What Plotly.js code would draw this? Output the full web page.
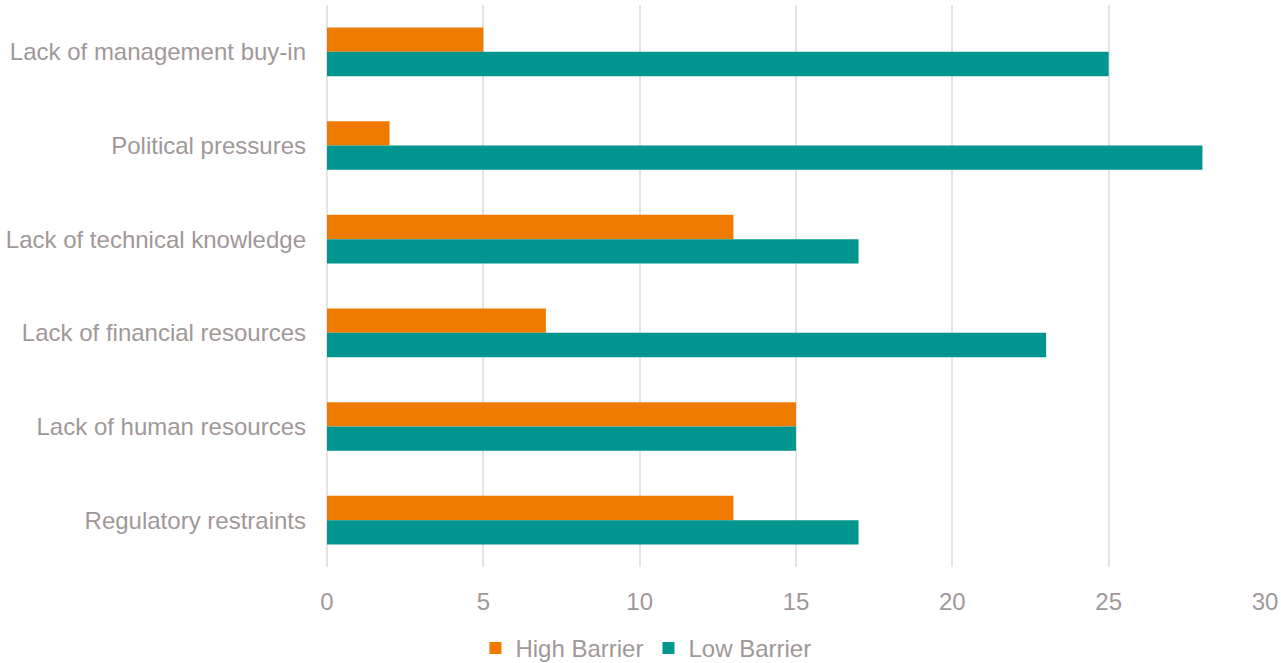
<!DOCTYPE html>
<html>
<head>
<meta charset="utf-8">
<script src="https://cdn.plot.ly/plotly-3.0.1.min.js"></script>
<style>html,body{margin:0;padding:0;background:#fff}#chart{width:1281px;height:663px}</style>
</head>
<body>
<div id="chart"></div>
<script>
const categories = ["Lack of management buy-in","Political pressures","Lack of technical knowledge","Lack of financial resources","Lack of human resources","Regulatory restraints"];
const highBarrier = [5, 2, 13, 7, 15, 13];
const lowBarrier = [25, 28, 17, 23, 15, 17];

const textColor = "#a09898";
const fontFam = "Liberation Sans, Arial, sans-serif";

const data = [
  {type:"bar", orientation:"h", name:"High Barrier", y:categories, x:highBarrier, marker:{color:"#ee7b00"}},
  {type:"bar", orientation:"h", name:"Low Barrier", y:categories, x:lowBarrier, marker:{color:"#00968f"}}
];

const layout = {
  width:1281, height:663,
  margin:{l:327, r:16, t:5, b:96, pad:0, autoexpand:false},
  paper_bgcolor:"#fff", plot_bgcolor:"#fff",
  font:{family:fontFam, size:24, color:textColor},
  barmode:"group", bargap:0.48, bargroupgap:0,
  xaxis:{range:[0,30], dtick:5, showgrid:true, gridcolor:"#e4e4e4", gridwidth:2, zeroline:true, zerolinecolor:"#e4e4e4", zerolinewidth:2, showline:false, ticks:"", ticklabelstandoff:18, tickfont:{size:24, color:textColor}, fixedrange:true},
  yaxis:{autorange:"reversed", showgrid:false, zeroline:false, showline:false, ticks:"", ticklabelstandoff:20, tickfont:{size:24, color:textColor}, fixedrange:true},
  showlegend:true,
  legend:{orientation:"h", x:0.34, xanchor:"center", y:-0.145, yanchor:"middle", font:{size:24, color:textColor}, itemwidth:30, traceorder:"normal"}
};

Plotly.newPlot("chart", data, layout, {displayModeBar:false, staticPlot:true});
</script>
</body>
</html>
